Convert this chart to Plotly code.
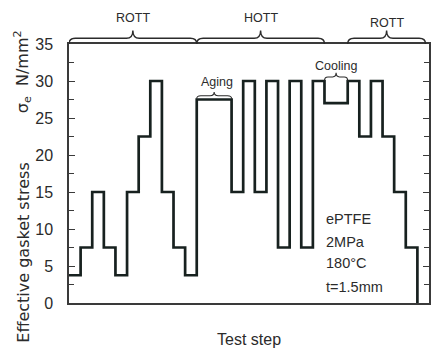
import plotly.graph_objects as go

# ---- data ----
stress_levels = [3.75, 7.5, 15, 7.5, 3.75, 15, 22.5, 30, 15, 7.5, 3.75,
                 27.5, 15, 30, 15, 30, 7.5, 30, 7.5, 30, 27, 30, 22.5, 30,
                 22.5, 15, 7.5, 0]
step_lengths = [1, 1, 1, 1, 1, 1, 1, 1, 1, 1, 1,
                3, 1, 1, 1, 1, 1, 1, 1, 1, 2, 1, 1, 1,
                1, 1, 1]
y_ticks = [0, 5, 10, 15, 20, 25, 30, 35]
phase_labels = ["ROTT", "HOTT", "ROTT"]
phase_spans = [(0, 11), (11, 22), (24, 30.7)]
info_lines = ["ePTFE", "2MPa", "180°C", "t=1.5mm"]

# step start positions
x_steps = [0]
for L in step_lengths:
    x_steps.append(x_steps[-1] + L)

FONT = "Liberation Sans, Arial, sans-serif"
INK = "#2b2b2b"
LINE = "#17211f"

fig = go.Figure()
fig.add_trace(go.Scatter(
    x=x_steps, y=stress_levels, mode="lines", line_shape="hv",
    line=dict(color=LINE, width=2.7), hoverinfo="skip", showlegend=False,
    cliponaxis=False,
))


def brace(x0, x1, y_low, y_mid, y_top, r, xref="x", yref="paper", width=1.4):
    xc = (x0 + x1) / 2
    path = (f"M {x0},{y_low} Q {x0},{y_mid} {x0 + r},{y_mid} "
            f"L {xc - r},{y_mid} Q {xc},{y_mid} {xc},{y_top} "
            f"Q {xc},{y_mid} {xc + r},{y_mid} L {x1 - r},{y_mid} "
            f"Q {x1},{y_mid} {x1},{y_low}")
    fig.add_shape(type="path", path=path, xref=xref, yref=yref,
                  line=dict(color=INK, width=width))


# phase braces above plot
for (a, b) in phase_spans:
    brace(a, b, 1.0, 1.022, 1.052, 0.55)

label_y = [1.102, 1.102, 1.083]
for lab, (a, b), ly in zip(phase_labels, phase_spans, label_y):
    fig.add_annotation(x=(a + b) / 2, y=ly, xref="x", yref="paper",
                       text=lab, showarrow=False, xanchor="center",
                       yanchor="middle",
                       font=dict(family=FONT, size=12.5, color=INK))

# Aging brace and label
brace(11, 14, 27.6, 28.0, 28.5, 0.35, yref="y", width=1.1)
fig.add_annotation(x=12.75, y=29.8, xref="x", yref="y", text="Aging",
                   showarrow=False, font=dict(family=FONT, size=12.5, color=INK))

# Cooling brace and label
brace(22, 24, 30.05, 30.55, 31.1, 0.3, yref="y", width=1.1)
fig.add_annotation(x=23.0, y=32.0, xref="x", yref="y", text="Cooling",
                   showarrow=False, font=dict(family=FONT, size=12.5, color=INK))

# info block
info_y = [11.35, 8.25, 5.4, 2.15]
for t, yy in zip(info_lines, info_y):
    fig.add_annotation(x=22.0, y=yy, xref="x", yref="y", text=t,
                       showarrow=False, xanchor="left", yanchor="middle",
                       font=dict(family=FONT, size=14.5, color=INK))

# y axis title (two pieces)
fig.add_annotation(x=-0.127, y=-0.16, xref="paper", yref="paper",
                   text="Effective gasket stress", textangle=-90,
                   xanchor="center", yanchor="bottom", showarrow=False,
                   font=dict(family="DejaVu Sans, sans-serif", size=16, color=INK))
fig.add_annotation(x=-0.127, y=1.06, xref="paper", yref="paper",
                   text="σ<sub>e</sub>  N/mm<sup>2</sup>", textangle=-90,
                   xanchor="center", yanchor="top", showarrow=False,
                   font=dict(family="DejaVu Sans, sans-serif", size=16, color=INK))

# x axis title
fig.add_annotation(x=0.5, y=-0.18, xref="paper", yref="paper",
                   text="Test step", showarrow=False, xanchor="center",
                   yanchor="bottom",
                   font=dict(family=FONT, size=16, color=INK))

fig.update_xaxes(range=[0, 31], showticklabels=False, ticks="",
                 showgrid=False, zeroline=False, showline=True,
                 linecolor="#3a3a3a", linewidth=1.5, mirror=True)
fig.update_yaxes(range=[0, 35], tickvals=y_ticks, ticks="inside",
                 ticklen=6, tickwidth=1.2, tickcolor="#3a3a3a",
                 minor=dict(dtick=2.5, ticks="inside", ticklen=5,
                            tickwidth=1.1, tickcolor="#3a3a3a"),
                 showgrid=False, zeroline=False, showline=True,
                 linecolor="#3a3a3a", linewidth=1.5, mirror="ticks",
                 ticklabelstandoff=11,
                 tickfont=dict(family=FONT, size=16, color=INK))

fig.update_layout(width=433, height=350,
                  margin=dict(l=69, r=2, t=44, b=47),
                  plot_bgcolor="white", paper_bgcolor="white")

fig.write_html("out.html")
